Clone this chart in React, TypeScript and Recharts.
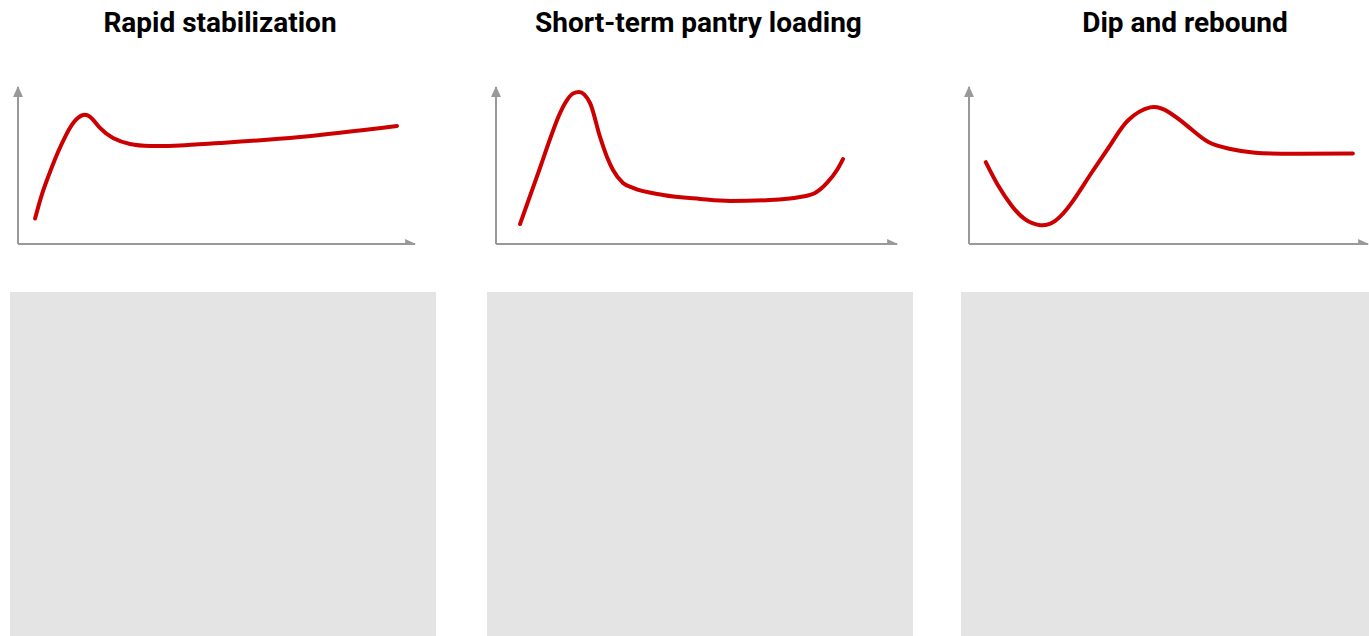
import { LineChart, Line, XAxis, YAxis } from "recharts";

const titles = ["Rapid stabilization", "Short-term pantry loading", "Dip and rebound"];

const stabX = [4.3, 6.05, 8.06, 10.08, 12.09, 14.1, 16.45, 18.64, 20.65, 23.93, 28.21, 33.25, 40.81, 50.88, 71.03, 95.47];
const stabY = [16.2, 31.8, 45.9, 58.6, 69.4, 77.7, 82.2, 79.9, 73.9, 67.5, 63.7, 62.4, 62.7, 64.3, 68.2, 75.2];

const pantryX = [5.99, 8.48, 10.97, 13.47, 15.96, 17.71, 19.2, 20.7, 23.44, 25.94, 27.68, 29.18, 31.67, 34.16, 41.65, 50.87, 58.35, 68.33, 75.81, 79.55, 82.54, 85.04, 86.53];
const pantryY = [12.7, 30.6, 48.4, 66.9, 83.4, 91.7, 95.9, 96.8, 89.8, 68.2, 55.4, 47.1, 38.9, 35.7, 31.2, 28.7, 27.4, 28, 29.9, 32.5, 38.9, 47.1, 54.1];

const dipX = [4.2, 7.3, 10.7, 14, 17.8, 21.6, 25.8, 30.8, 35.9, 39.9, 45.4, 49.9, 55, 60, 65.2, 71.7, 83, 96.2];
const dipY = [52.1, 37.2, 24.4, 15.8, 12, 14.7, 26.5, 45.7, 64.9, 78.8, 87, 84.2, 74.6, 64.9, 60.7, 58.1, 57.5, 57.7];

const toRows = (xs: number[], ys: number[]) => xs.map((x, i) => ({ x, y: ys[i] }));

const series = [toRows(stabX, stabY), toRows(pantryX, pantryY), toRows(dipX, dipY)];

// panel placement
const panels = [
  { left: 10, titleLeft: 10, titleWidth: 420, curve: "natural", margin: { top: 17, right: 21, bottom: 0, left: 7 } },
  { left: 487, titleLeft: 487, titleWidth: 423, curve: "monotone", margin: { top: 17, right: 16, bottom: 0, left: 8 } },
  { left: 961, titleLeft: 961, titleWidth: 448, curve: "natural", margin: { top: 17, right: 19, bottom: 0, left: 7 } },
];

const AXIS = "#999999";
const RED = "#cc0000";

function Panel({ idx }: { idx: number }) {
  const p = panels[idx];
  return (
    <>
      <div
        style={{
          position: "absolute",
          left: p.titleLeft,
          width: p.titleWidth,
          top: 0,
          height: 46,
          lineHeight: "46px",
          textAlign: "center",
          fontFamily: "Roboto, sans-serif",
          fontWeight: 700,
          fontSize: 28,
          color: "#000",
        }}
      >
        {titles[idx]}
      </div>
      <div style={{ position: "absolute", left: p.left, top: 70 }}>
        <LineChart width={426} height={175} data={series[idx]} margin={p.margin}>
          <XAxis
            dataKey="x"
            type="number"
            domain={[0, 100]}
            height={1}
            tick={false}
            tickLine={false}
            stroke={AXIS}
            axisLine={{ stroke: AXIS, strokeWidth: 2, markerEnd: "url(#axisArrow)" }}
          />
          <YAxis
            type="number"
            domain={[0, 100]}
            width={1}
            tick={false}
            tickLine={false}
            stroke={AXIS}
            axisLine={{ stroke: AXIS, strokeWidth: 2, markerStart: "url(#axisArrowUp)" }}
          />
          <Line
            type={p.curve as "natural" | "monotone"}
            dataKey="y"
            stroke={RED}
            strokeWidth={4}
            strokeLinecap="round"
            dot={false}
            activeDot={false}
            isAnimationActive={false}
          />
        </LineChart>
      </div>
      <div
        style={{
          position: "absolute",
          left: p.left,
          top: 292,
          width: idx === 2 ? 452 : 426,
          height: 400,
          background: "#e4e4e4",
        }}
      />
    </>
  );
}

export default function App() {
  return (
    <div
      style={{
        position: "fixed",
        left: 0,
        top: 0,
        width: 1369,
        height: 636,
        overflow: "hidden",
        background: "#fff",
      }}
    >
      <svg width={0} height={0} style={{ position: "absolute" }}>
        <defs>
          <marker
            id="axisArrow"
            viewBox="0 0 10 10"
            refX={9}
            refY={5}
            markerWidth={11}
            markerHeight={11}
            markerUnits="userSpaceOnUse"
            orient="auto"
          >
            <path d="M0,0.5 L10,5 L0,9.5 z" fill={AXIS} />
          </marker>
          <marker
            id="axisArrowUp"
            viewBox="0 0 10 10"
            refX={9}
            refY={5}
            markerWidth={11}
            markerHeight={11}
            markerUnits="userSpaceOnUse"
            orient="auto-start-reverse"
          >
            <path d="M0,0.5 L10,5 L0,9.5 z" fill={AXIS} />
          </marker>
        </defs>
      </svg>
      {panels.map((_, i) => (
        <Panel key={i} idx={i} />
      ))}
    </div>
  );
}
